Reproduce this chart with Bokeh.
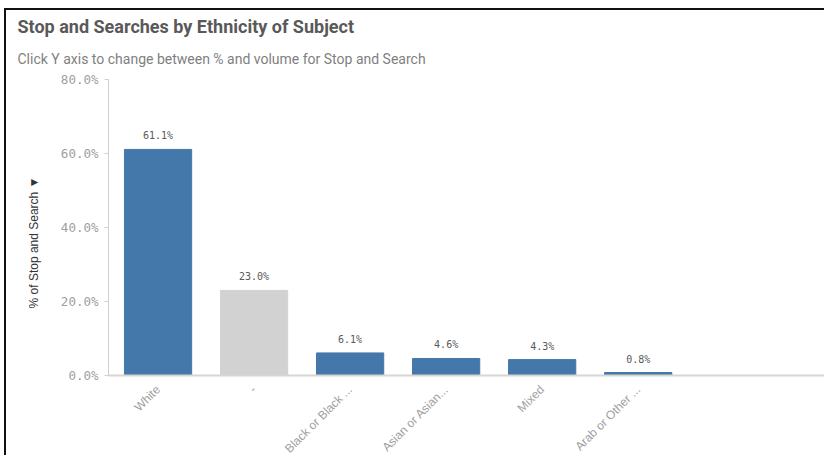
from bokeh.plotting import figure
from bokeh.models import ColumnDataSource, FixedTicker, Range1d, Title, LabelSet
from bokeh.core.properties import value
from bokeh.embed import file_html
from bokeh.resources import INLINE

categories = ["White", "-", "Black or Black ...", "Asian or Asian...", "Mixed", "Arab or Other ..."]
values = [61.1, 23.0, 6.1, 4.6, 4.3, 0.8]
colors = ["#4477aa", "#d2d2d2", "#4477aa", "#4477aa", "#4477aa", "#4477aa"]
y_ticks = [0, 20, 40, 60, 80]

xs = list(range(len(categories)))
src = ColumnDataSource(dict(
    x=xs, v=values, c=colors,
    lab=[f"{v:.1f}%" for v in values],
))

p = figure(frame_width=716, frame_height=296, output_backend="svg", toolbar_location=None,
           x_range=Range1d(-0.516, 6.94), y_range=Range1d(0, 80),
           min_border_left=102, min_border_right=0, min_border_bottom=78, min_border_top=69,
           title=None)
p.styles = {"border-top": "2px solid #111", "border-left": "2px solid #111",
            "border-right": "none", "border-bottom": "none",
            "margin-left": "4px", "margin-top": "8px"}
p.outline_line_color = None
p.xgrid.grid_line_color = None
p.ygrid.grid_line_color = None

p.vbar(x="x", top="v", width=0.7, fill_color="c", line_color="c", source=src)
p.add_layout(LabelSet(x="x", y="v", text="lab", source=src, text_align="center",
                      text_baseline="bottom", y_offset=8, text_font_size="10px",
                      text_font=value("DejaVu Sans Mono"), text_color="#595959"))

sub = Title(text="Click Y axis to change between % and volume for Stop and Search",
            text_font_size="14px", text_font="Roboto", text_font_style="normal",
            text_color="#7f7f7f", align="left", offset=-91, standoff=25)
main = Title(text="Stop and Searches by Ethnicity of Subject",
             text_font_size="18px", text_font="Roboto", text_font_style="bold",
             text_color="#595959", align="left", offset=-91, standoff=0)
p.add_layout(sub, "above")
p.add_layout(main, "above")

# y axis
ya = p.yaxis[0]
ya.ticker = FixedTicker(ticks=y_ticks)
ya.major_label_overrides = {t: f"{t:.1f}%" for t in y_ticks}
ya.major_label_text_font = "DejaVu Sans Mono"
ya.major_label_text_font_size = "12.5px"
ya.major_label_text_color = "#a0a0a0"
ya.axis_line_color = "#d0d0d0"
ya.major_tick_line_color = "#d0d0d0"
ya.major_tick_out = 4
ya.major_tick_in = 0
ya.major_label_standoff = 6
ya.minor_tick_line_color = None
ya.axis_label = "% of Stop and Search\u00a0\u25bc" + "\u00a0" * 9
ya.axis_label_text_font = "Liberation Sans"
ya.axis_label_text_font_size = "12px"
ya.axis_label_text_font_style = "normal"
ya.axis_label_text_color = "#333333"
ya.axis_label_standoff = 17

# x axis
xa = p.xaxis[0]
xa.ticker = FixedTicker(ticks=xs)
xa.major_label_overrides = {i: c for i, c in enumerate(categories)}
xa.major_label_orientation = 0.785
xa.major_label_text_font = "Liberation Sans"
xa.major_label_text_font_size = "12px"
xa.major_label_text_color = "#a0a0a0"
xa.axis_line_color = "#d6d6d6"
xa.axis_line_width = 2
xa.major_tick_line_color = None
xa.minor_tick_line_color = None
xa.major_label_standoff = 6

open("out.html", "w").write(file_html(p, INLINE))
